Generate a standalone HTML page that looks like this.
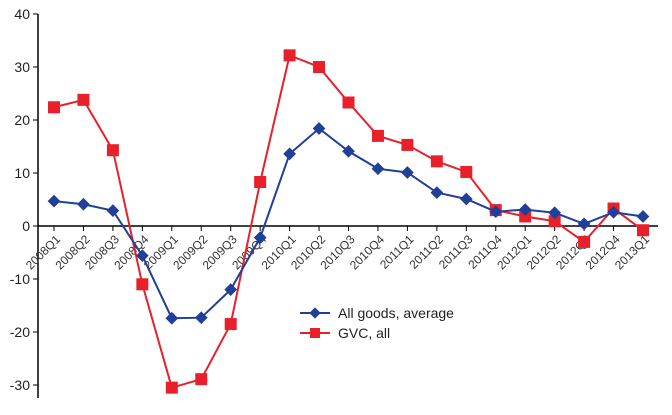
<!DOCTYPE html>
<html><head><meta charset="utf-8"><style>
html,body{margin:0;padding:0;background:#fff;}
svg{display:block;font-family:"Liberation Sans",sans-serif;}
</style></head><body>
<svg id="c" width="672" height="415"></svg>
<script>
const categories=["2008Q1","2008Q2","2008Q3","2008Q4","2009Q1","2009Q2","2009Q3","2009Q4","2010Q1","2010Q2","2010Q3","2010Q4","2011Q1","2011Q2","2011Q3","2011Q4","2012Q1","2012Q2","2012Q3","2012Q4","2013Q1"];
const allGoods=[4.7,4.1,2.9,-5.6,-17.4,-17.3,-12,-2.2,13.6,18.4,14.1,10.8,10.1,6.3,5.1,2.7,3.1,2.5,0.4,2.6,1.8];
const gvcAll=[22.4,23.8,14.3,-11,-30.5,-28.9,-18.5,8.3,32.2,30,23.3,17,15.3,12.2,10.2,3,1.8,0.9,-3,3.3,-0.8];
const yTicks=[40,30,20,10,0,-10,-20,-30];
const NS="http://www.w3.org/2000/svg";
const svg=document.getElementById('c');
function y(v){return 226-v*5.3;}
function x(i){return 54+i*29.45;}
function mk(t,a,p){const e=document.createElementNS(NS,t);for(const k in a)e.setAttribute(k,a[k]);(p||svg).appendChild(e);return e;}
const ya=mk('line',{x1:38,y1:y(40),x2:38,y2:398,stroke:'#000','stroke-width':1.5});


yTicks.forEach(v=>{
 const t=mk('line',{x1:33,x2:38,y1:y(v),y2:y(v),stroke:'#000'});
 
 
 const l=mk('text',{x:30,y:y(v)+5,'text-anchor':'end','font-size':14,fill:'#222'});
 l.textContent=v;
 
 
});
const xa=mk('line',{x1:38,y1:y(0),x2:658,y2:y(0),stroke:'#000','stroke-width':1.5});


categories.forEach((c,i)=>{
 const t=mk('line',{x1:x(i),x2:x(i),y1:y(0),y2:y(0)+5,stroke:'#000'});
 
 
 const lx=x(i)+7, ly=y(0)+14;
 const l=mk('text',{x:lx,y:ly,'text-anchor':'end','font-size':12,fill:'#333',transform:`rotate(-45 ${lx} ${ly})`});
 l.textContent=c;
 
 
});
function series(vals,color,shape,name){
 const g=mk('g',{});
 
 
 const pl=mk('polyline',{points:vals.map((v,i)=>x(i)+','+y(v)).join(' '),fill:'none',stroke:color,'stroke-width':2},g);
 
 
 vals.forEach((v,i)=>{
  let m;
  if(shape==='sq')m=mk('rect',{x:x(i)-6,y:y(v)-6,width:12,height:12,fill:color},g);
  else m=mk('rect',{x:x(i)-4.5,y:y(v)-4.5,width:9,height:9,fill:color,transform:`rotate(45 ${x(i)} ${y(v)})`},g);
  
  
 });
}
series(gvcAll,'#e8202a','sq','gvc-all-series');
series(allGoods,'#1f3f99','dia','all-goods-series');
const lg=mk('g',{});


[['All goods, average','#1f3f99','dia',313],['GVC, all','#e8202a','sq',333]].forEach(([t,c,s,yy])=>{
 const e=mk('g',{},lg);
 
 
 mk('line',{x1:300,x2:330,y1:yy,y2:yy,stroke:c,'stroke-width':2},e);
 if(s==='sq')mk('rect',{x:310,y:yy-5,width:10,height:10,fill:c},e);
 else mk('rect',{x:311,y:yy-4,width:8,height:8,fill:c,transform:`rotate(45 315 ${yy})`},e);
 const l=mk('text',{x:338,y:yy+5,'font-size':14,fill:'#222'},e);
 l.textContent=t;
});
</script>
</body></html>
